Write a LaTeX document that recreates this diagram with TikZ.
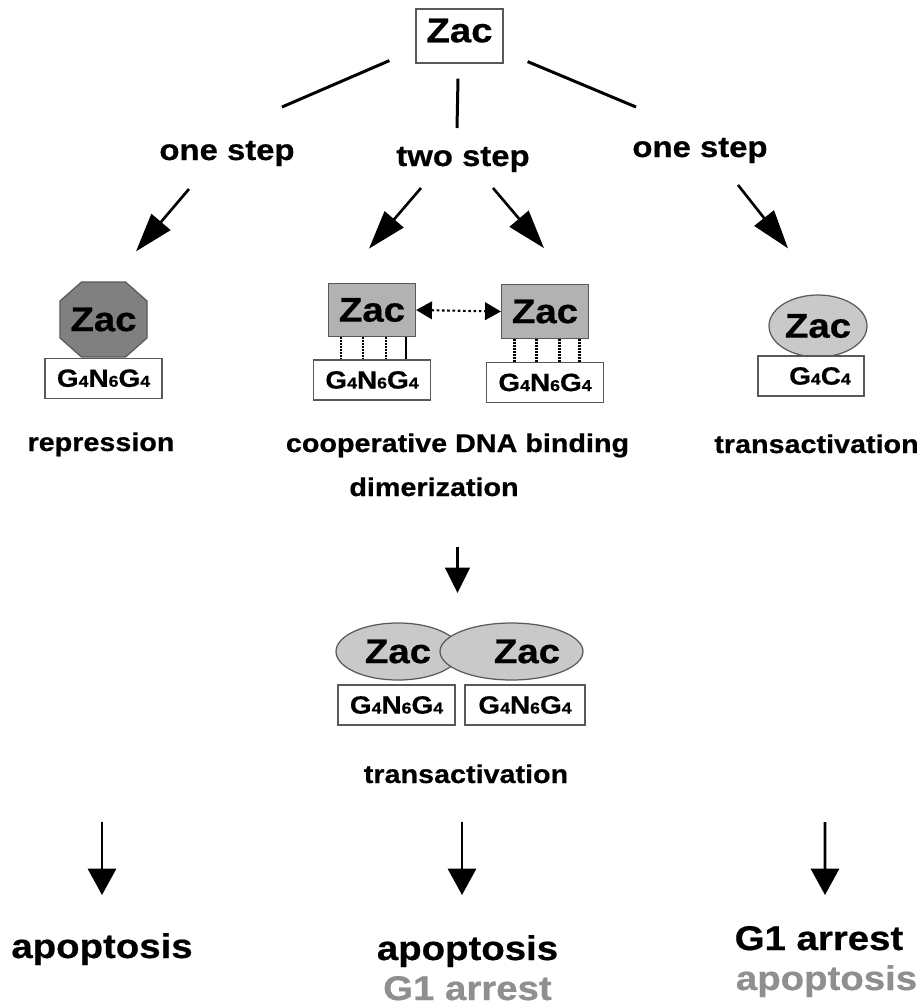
\documentclass[tikz,border=0pt]{standalone}
\usepackage{fontspec}
\setmainfont{Liberation Sans}[FakeStretch=1.12, BoldFeatures={FakeBold=0.6}]
\usepackage{tikz}
\usetikzlibrary{shapes.geometric, arrows.meta, positioning, calc}
\definecolor{zacdark}{gray}{0.50}
\definecolor{zacmid}{gray}{0.70}
\definecolor{zaclight}{gray}{0.79}
\definecolor{edgegray}{gray}{0.35}
\definecolor{fadetext}{gray}{0.56}
\newcommand{\zacfont}{\bfseries\fontsize{19.5}{22}\selectfont}
\newcommand{\nsub}[1]{{\fontsize{9}{9}\selectfont #1}}
\tikzstyle{protein}=[inner sep=0pt, draw=edgegray, line width=0.7pt, font=\zacfont]
\tikzstyle{topbox}=[protein, rectangle, fill=white, minimum width=1.74cm, minimum height=1.08cm, text depth=0.22cm]
\tikzstyle{octagon}=[fill=zacdark, draw=edgegray, line width=0.7pt]
\tikzstyle{dimer}=[protein, rectangle, fill=zacmid, minimum width=1.74cm, minimum height=1.07cm]
\tikzstyle{activator}=[protein, ellipse, fill=zaclight, minimum width=1.96cm, minimum height=1.24cm]
\tikzstyle{site}=[rectangle, draw=edgegray, line width=0.7pt, fill=white, inner sep=0pt, minimum width=2.34cm, minimum height=0.8cm, font=\bfseries\fontsize{14.2}{16}\selectfont]
\tikzstyle{steplabel}=[inner sep=0pt, anchor=base, font=\bfseries\fontsize{16.7}{19}\selectfont]
\tikzstyle{effect}=[inner sep=0pt, anchor=base, font=\bfseries\fontsize{14.6}{17}\selectfont]
\tikzstyle{outcome}=[inner sep=0pt, anchor=base, font=\bfseries\fontsize{19.5}{22}\selectfont]
\tikzstyle{branch}=[line width=1.7pt]
\tikzstyle{arrow}=[line width=1.5pt, -{Triangle[length=22pt, width=14pt]}]
\tikzstyle{midarrow}=[line width=1.5pt, -{Triangle[length=14.5pt, width=14pt]}]
\tikzstyle{downarrow}=[line width=1.6pt, -{Triangle[length=15pt, width=16pt]}]
\tikzstyle{contact}=[line width=1.7pt, dash pattern=on 1pt off 0.7pt]
\tikzstyle{swap}=[line width=1.2pt, dash pattern=on 1.5pt off 1.5pt, {Triangle[length=9pt, width=10pt]}-{Triangle[length=9pt, width=10pt]}]

\begin{document}
\begin{tikzpicture}[x=0.02cm, y=-0.02cm]
		\useasboundingbox (0,0) rectangle (920,1007);

		\node (zac) [topbox] at (459.5,36) {Zac};
		\node (one1) [steplabel] at (227,160) {one step};
		\node (two) [steplabel] at (463,166) {two step};
		\node (one2) [steplabel] at (700,157) {one step};

		% one step, repression
		\coordinate (repc) at (103.5,319.5);
		\filldraw[octagon, shift={(repc)}] (-22,-37.5) -- (22,-37.5) -- (43.5,-18.5) -- (43.5,18.5) -- (22,37.5) -- (-22,37.5) -- (-43.5,18.5) -- (-43.5,-18.5) -- cycle;
		\node (rep) [protein, draw=none, minimum width=1.74cm, minimum height=1.5cm] at (repc) {Zac};
		\node (siteN) [site, below=0pt of rep] {G\nsub{4}N\nsub{6}G\nsub{4}};

		% two step, cooperative binding
		\node (dimL) [dimer] at (372,310) {Zac};
		\node (siteL) [site, below=0.44cm of dimL] {G\nsub{4}N\nsub{6}G\nsub{4}};
		\node (dimR) [dimer] at (545,311.5) {Zac};
		\node (siteR) [site, below=0.46cm of dimR] {G\nsub{4}N\nsub{6}G\nsub{4}};

		% one step, transactivation
		\node (act) [activator] at (818,326) {Zac};
		\node (siteA) [site, minimum width=2.12cm] at (811,376) {\hspace*{0.36cm}G\nsub{4}C\nsub{4}};

		\node (repr) [effect] at (101,451) {repression};
		\node (coop) [effect] at (457.5,452) {cooperative DNA binding};
		\node (dimz) [effect] at (434,496) {dimerization};
		\node (tact2) [effect] at (816.5,453) {transactivation};

		% dimer on two sites
		\node (eL) [activator, minimum width=2.48cm, minimum height=1.14cm] at (398,651.5) {Zac};
		\node (eR) [activator, minimum width=2.86cm, minimum height=1.14cm] at (511.5,651.5) {\hspace*{0.62cm}Zac};
		\node (siteP) [site] at (396.5,705) {G\nsub{4}N\nsub{6}G\nsub{4}};
		\node (siteQ) [site, minimum width=2.4cm] at (525,705) {G\nsub{4}N\nsub{6}G\nsub{4}};
		\node (tact) [effect] at (466,783) {transactivation};

		\node (outL) [outcome] at (102,958) {apoptosis};
		\node (outM) [outcome] at (467.5,960) {apoptosis};
		\node (outM2) [outcome, text=fadetext] at (467.5,1000) {G1 arrest};
		\node (outR) [outcome] at (819,950) {G1 arrest};
		\node (outR2) [outcome, text=fadetext] at (826.5,990) {apoptosis};

		\draw [branch] ($(zac.south west)+(-26,-3)$) -- ($(one1.base)+(55,-53)$);
		\draw [branch] ($(zac.south)+(-1.5,15)$) -- ($(two.base)+(-6,-38)$);
		\draw [branch] ($(zac.south east)+(24,-2)$) -- ($(one2.base)+(-64,-50)$);

		\draw [arrow] ($(one1.base)+(-38,29)$) -- ($(rep.north)+(32.5,-30)$);
		\draw [arrow] ($(two.base)+(-42,22)$) -- ($(dimL.north)+(-3,-34)$);
		\draw [arrow] ($(two.base)+(30,22)$) -- ($(dimR.north)+(-1,-36)$);
		\draw [arrow] ($(one2.base)+(38,28)$) -- ($(act.north)+(-30,-46)$);

		\draw [swap] (dimL.east) -- (dimR.west);
		\foreach \dx in {-31,-9,14} {
			\draw [contact] ($(dimL.south)+(\dx,0)$) -- ++(0,22);
			\draw [contact] ($(dimR.south)+(\dx,0)$) -- ++(0,23);
		}
		\draw [line width=1.6pt] ($(dimL.south)+(34,0)$) -- ++(0,22);
		\draw [contact] ($(dimR.south)+(34,0)$) -- ++(0,23);

		\draw [midarrow] ($(coop.base)+(0,95)$) -- ($(coop.base)+(0,141)$);

		\draw [downarrow] ($(repr.base)+(1,371)$) -- ($(outL.base)+(0,-63)$);
		\draw [downarrow] ($(tact.base)+(-4,39)$) -- ($(outM.base)+(-5.5,-65)$);
		\draw [downarrow] ($(tact2.base)+(8.5,369)$) -- ($(outR.base)+(6,-55)$);
	\end{tikzpicture}
\end{document}
